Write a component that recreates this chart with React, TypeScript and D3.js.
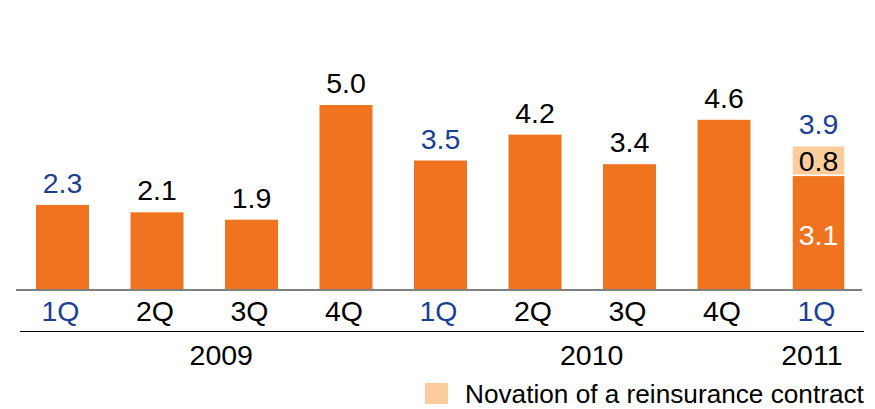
import React from "react";
import * as d3 from "d3";

const quarters = ["1Q", "2Q", "3Q", "4Q", "1Q", "2Q", "3Q", "4Q", "1Q"];
const keys = ["2009-1Q", "2009-2Q", "2009-3Q", "2009-4Q", "2010-1Q", "2010-2Q", "2010-3Q", "2010-4Q", "2011-1Q"];
const baseValues = [2.3, 2.1, 1.9, 5.0, 3.5, 4.2, 3.4, 4.6, 3.1];
const novationValues = [0, 0, 0, 0, 0, 0, 0, 0, 0.8];
const highlight = [true, false, false, false, true, false, false, false, true];
const years = ["2009", "2010", "2011"];
const yearPositions = [1.68, 5.6, 7.93]; // in band-index units
const legendLabel = "Novation of a reinsurance contract";

const W = 875;
const H = 409;
const ORANGE = "#f07320";
const PEACH = "#fdcc9c";
const BLUE = "#1c3f94";
const FONT = "'Liberation Sans', Arial, sans-serif";
const FS = 28.5;

export default function App() {
  const x = d3.scaleBand<string>().domain(keys).range([15.25, 865.75]).paddingInner(0.439).paddingOuter(0.2195);
  const y = d3.scaleLinear().domain([0, 5]).range([290, 105]);
  const step = x.step();
  const firstCenter = (x(keys[0]) as number) + x.bandwidth() / 2;
  const idxX = d3.scaleLinear().domain([0, 1]).range([firstCenter, firstCenter + step]);
  const bw = x.bandwidth();

  return (
    <svg width={W} height={H} style={{ position: "absolute", left: 0, top: 0, fontFamily: FONT }}>
      {keys.map((k, i) => {
        const x0 = x(k) as number;
        const cx = x0 + bw / 2;
        const base = baseValues[i];
        const nov = novationValues[i];
        const total = base + nov;
        const stacked = nov > 0;
        return (
          <g key={k}>
            <rect
              x={x0}
              y={y(base)}
              width={bw}
              height={y(0) - y(base)}
              fill={ORANGE}
              stroke={stacked ? "#fff" : "none"}
              strokeWidth={stacked ? 1.5 : 0}
            />
            {stacked && (
              <rect
                x={x0}
                y={y(total)}
                width={bw}
                height={y(base) - y(total)}
                fill={PEACH}
                stroke="#fff"
                strokeWidth={1.5}
              />
            )}
            {stacked && (
              <>
                <text x={cx} y={(y(base) + y(total)) / 2 + 10} textAnchor="middle" fontSize={FS} fill="#000">
                  {nov.toFixed(1)}
                </text>
                <text x={cx} y={(y(0) + y(base)) / 2 + 12} textAnchor="middle" fontSize={FS} fill="#fff">
                  {base.toFixed(1)}
                </text>
              </>
            )}
            <text
              x={cx}
              y={y(total) - 12}
              textAnchor="middle"
              fontSize={FS}
              fill={highlight[i] ? BLUE : "#000"}
            >
              {total.toFixed(1)}
            </text>
            <text x={cx - 2} y={321} textAnchor="middle" fontSize={FS} fill={highlight[i] ? BLUE : "#000"}>
              {quarters[i]}
            </text>
          </g>
        );
      })}
      <line x1={16} x2={862} y1={y(0)} y2={y(0)} stroke="#808080" strokeWidth={2} />
      <line x1={20} x2={864} y1={331.5} y2={331.5} stroke="#000" strokeWidth={1.2} />
      {years.map((yr, i) => (
        <text key={yr} x={idxX(yearPositions[i])} y={365} textAnchor="middle" fontSize={FS} fill="#000">
          {yr}
        </text>
      ))}
      <rect x={425} y={383} width={23} height={21} fill={PEACH} />
      <text x={465} y={403} fontSize={26.2} fill="#000">
        {legendLabel}
      </text>
    </svg>
  );
}
